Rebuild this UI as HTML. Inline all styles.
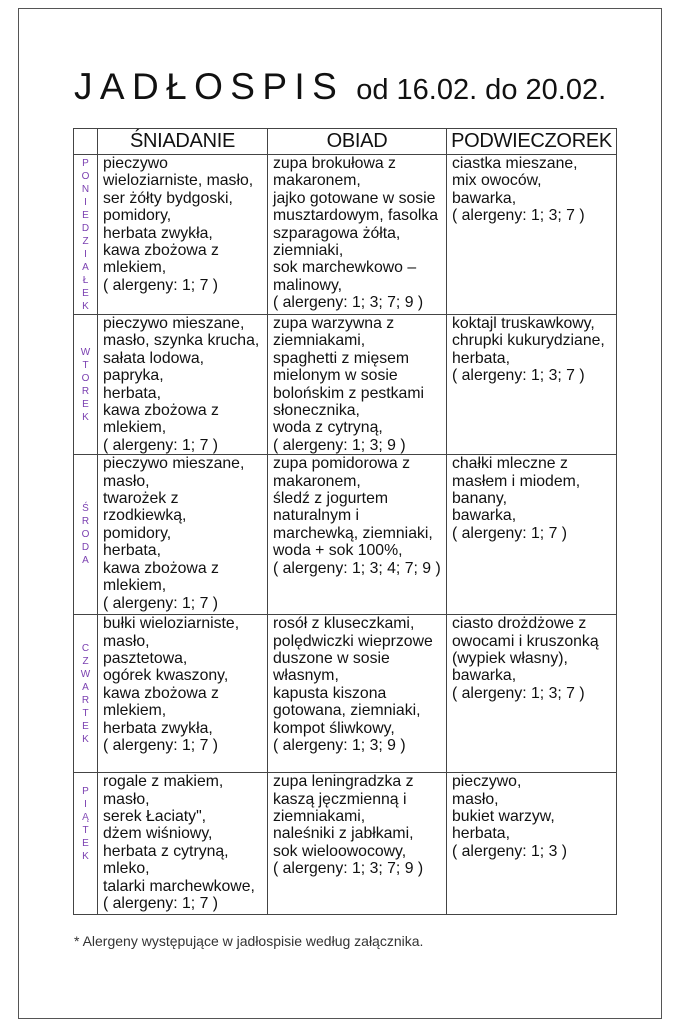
<!DOCTYPE html>
<html><head><meta charset="utf-8"><style>
body{margin:0;width:678px;height:1024px;background:#fff;position:relative;font-family:"Liberation Sans",sans-serif;color:#111;overflow:hidden}
.frame{position:absolute;left:18px;top:8px;width:642px;height:1009px;border:1.5px solid #555}
.title{position:absolute;left:74px;top:66px;white-space:nowrap}
.t1{font-size:37px;letter-spacing:7.4px}
.t2{font-size:29px;margin-left:12px}
table{position:absolute;left:73px;top:128px;border-collapse:collapse;width:543px;table-layout:fixed}
td,th{border:1px solid #444;vertical-align:top;padding:0 0 0 5px;font-size:15.8px;line-height:17.4px;font-weight:normal;white-space:nowrap;overflow:hidden}
th{font-size:20px;line-height:23px;padding:1px 0;text-align:center;letter-spacing:-0.3px}
td.d{padding:0;vertical-align:middle;text-align:center;color:#7a3fb0;font-size:10px;line-height:13px}
.note{position:absolute;left:74px;top:933px;font-size:14px;color:#333}
</style></head><body>
<div class="frame"></div>
<div class="title"><span class="t1">JADŁOSPIS</span><span class="t2">od 16.02. do 20.02.</span></div>
<table>
<colgroup><col style="width:24px"><col style="width:170px"><col style="width:179px"><col style="width:170px"></colgroup>
<tr style="height:25px"><th></th><th>ŚNIADANIE</th><th>OBIAD</th><th>PODWIECZOREK</th></tr>
<tr style="height:160px"><td class="d">P<br>O<br>N<br>I<br>E<br>D<br>Z<br>I<br>A<br>Ł<br>E<br>K</td>
<td>pieczywo<br>wieloziarniste, masło,<br>ser żółty bydgoski,<br>pomidory,<br>herbata zwykła,<br>kawa zbożowa z<br>mlekiem,<br>( alergeny: 1; 7 )</td>
<td>zupa brokułowa z<br>makaronem,<br>jajko gotowane w sosie<br>musztardowym, fasolka<br>szparagowa żółta,<br>ziemniaki,<br>sok marchewkowo –<br>malinowy,<br>( alergeny: 1; 3; 7; 9 )</td>
<td>ciastka mieszane,<br>mix owoców,<br>bawarka,<br>( alergeny: 1; 3; 7 )</td></tr>
<tr style="height:140px"><td class="d">W<br>T<br>O<br>R<br>E<br>K</td>
<td>pieczywo mieszane,<br>masło, szynka krucha,<br>sałata lodowa,<br>papryka,<br>herbata,<br>kawa zbożowa z<br>mlekiem,<br>( alergeny: 1; 7 )</td>
<td>zupa warzywna z<br>ziemniakami,<br>spaghetti z mięsem<br>mielonym w sosie<br>bolońskim z pestkami<br>słonecznika,<br>woda z cytryną,<br>( alergeny: 1; 3; 9 )</td>
<td>koktajl truskawkowy,<br>chrupki kukurydziane,<br>herbata,<br>( alergeny: 1; 3; 7 )</td></tr>
<tr style="height:160px"><td class="d">Ś<br>R<br>O<br>D<br>A</td>
<td>pieczywo mieszane,<br>masło,<br>twarożek z<br>rzodkiewką,<br>pomidory,<br>herbata,<br>kawa zbożowa z<br>mlekiem,<br>( alergeny: 1; 7 )</td>
<td>zupa pomidorowa z<br>makaronem,<br>śledź z jogurtem<br>naturalnym i<br>marchewką, ziemniaki,<br>woda + sok 100%,<br>( alergeny: 1; 3; 4; 7; 9 )</td>
<td>chałki mleczne z<br>masłem i miodem,<br>banany,<br>bawarka,<br>( alergeny: 1; 7 )</td></tr>
<tr style="height:158px"><td class="d">C<br>Z<br>W<br>A<br>R<br>T<br>E<br>K</td>
<td>bułki wieloziarniste,<br>masło,<br>pasztetowa,<br>ogórek kwaszony,<br>kawa zbożowa z<br>mlekiem,<br>herbata zwykła,<br>( alergeny: 1; 7 )</td>
<td>rosół z kluseczkami,<br>polędwiczki wieprzowe<br>duszone w sosie<br>własnym,<br>kapusta kiszona<br>gotowana, ziemniaki,<br>kompot śliwkowy,<br>( alergeny: 1; 3; 9 )</td>
<td>ciasto drożdżowe z<br>owocami i kruszonką<br>(wypiek własny),<br>bawarka,<br>( alergeny: 1; 3; 7 )</td></tr>
<tr style="height:142px"><td class="d" style="vertical-align:top;padding-top:12px">P<br>I<br>Ą<br>T<br>E<br>K</td>
<td>rogale z makiem,<br>masło,<br>serek Łaciaty",<br>dżem wiśniowy,<br>herbata z cytryną,<br>mleko,<br>talarki marchewkowe,<br>( alergeny: 1; 7 )</td>
<td>zupa leningradzka z<br>kaszą jęczmienną i<br>ziemniakami,<br>naleśniki z jabłkami,<br>sok wieloowocowy,<br>( alergeny: 1; 3; 7; 9 )</td>
<td>pieczywo,<br>masło,<br>bukiet warzyw,<br>herbata,<br>( alergeny: 1; 3 )</td></tr>
</table>
<div class="note">* Alergeny występujące w jadłospisie według załącznika.</div>
</body></html>
